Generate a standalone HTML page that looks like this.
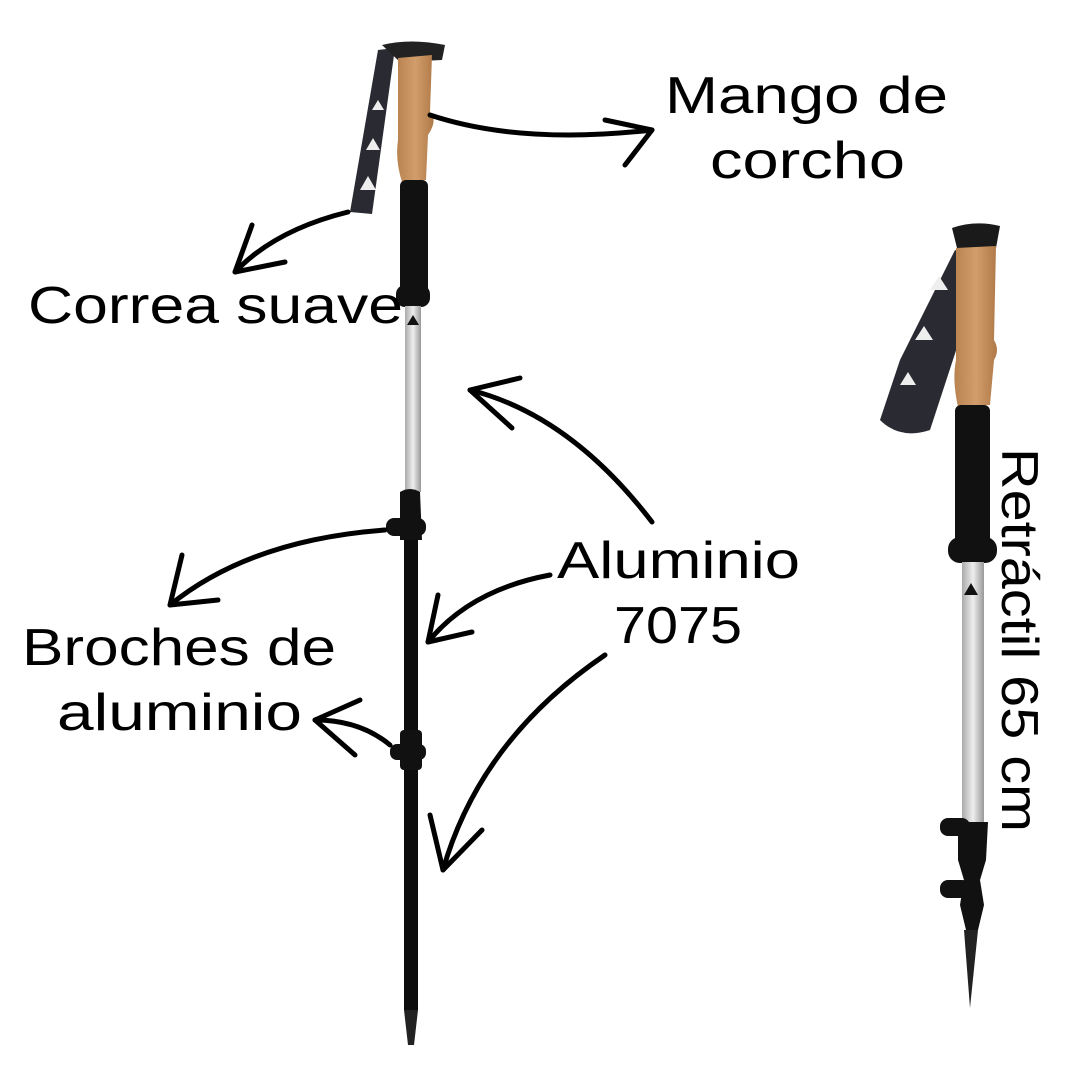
<!DOCTYPE html>
<html><head><meta charset="utf-8"><style>
body{margin:0;background:#fff;}
svg{display:block}
text{font-family:"Liberation Sans",sans-serif;fill:#000}
</style></head><body>
<svg width="1080" height="1080" viewBox="0 0 1080 1080">
<defs>
<linearGradient id="sil" x1="0" x2="1"><stop offset="0" stop-color="#aaa"/><stop offset=".5" stop-color="#eee"/><stop offset="1" stop-color="#999"/></linearGradient>
<linearGradient id="cork" x1="0" x2="1"><stop offset="0" stop-color="#b98350"/><stop offset=".5" stop-color="#d19d6a"/><stop offset="1" stop-color="#b07a48"/></linearGradient>
</defs>
<!-- LEFT POLE -->
<path d="M378 50 L395 48 L372 214 L350 212 Z" fill="#2a2a33"/>
<path d="M360 190 l8 -14 l8 14z M366 150 l7 -12 l7 12z M372 110 l6 -10 l6 10z" fill="#eee"/>
<path d="M382 45 Q410 38 445 45 L442 60 L400 62 Z" fill="#222"/>
<path d="M398 58 L432 55 L430 112 Q438 120 428 135 L426 180 L402 182 Q395 160 398 140 Z" fill="url(#cork)"/>
<rect x="400" y="180" width="28" height="115" rx="6" fill="#111"/>
<rect x="396" y="285" width="34" height="22" rx="9" fill="#111"/>
<rect x="405" y="306" width="16" height="186" fill="url(#sil)"/>
<path d="M407 325 l6 -10 l6 10z" fill="#111"/>
<path d="M400 492 Q410 486 420 492 L422 540 L400 540 Z" fill="#111"/>
<rect x="386" y="518" width="40" height="18" rx="8" fill="#111"/>
<rect x="404" y="540" width="14" height="470" fill="#0d0d0d"/>
<rect x="400" y="730" width="22" height="40" rx="4" fill="#111"/>
<rect x="390" y="744" width="36" height="16" rx="7" fill="#111"/>
<path d="M404 1010 L418 1010 L414 1045 L408 1045 Z" fill="#222"/>
<!-- RIGHT POLE -->
<path d="M955 250 L985 262 L930 430 Q900 440 880 420 L900 360 Z" fill="#2a2a33"/>
<path d="M930 290 l9 -14 l9 14z M915 340 l9 -14 l9 14z M900 385 l8 -13 l8 13z" fill="#eee"/>
<path d="M952 228 Q975 220 1000 226 L996 248 L958 252 Z" fill="#1a1a1a"/>
<path d="M956 248 L996 246 L994 340 Q1000 350 994 360 L990 405 L958 407 Q952 380 956 360 Z" fill="url(#cork)"/>
<rect x="955" y="405" width="35" height="140" rx="6" fill="#111"/>
<rect x="948" y="537" width="49" height="26" rx="12" fill="#111"/>
<rect x="962" y="562" width="22" height="262" fill="url(#sil)"/>
<path d="M964 595 l7 -12 l7 12z" fill="#111"/>
<path d="M958 822 L988 822 L986 860 L980 880 L984 905 L978 930 L966 930 L960 905 L964 880 L958 860 Z" fill="#111"/>
<rect x="940" y="818" width="30" height="18" rx="8" fill="#111"/>
<rect x="940" y="880" width="30" height="18" rx="8" fill="#111"/>
<path d="M964 930 L978 930 L970 1008 Z" fill="#222"/>
<!-- ARROWS -->
<g fill="none" stroke="#000" stroke-width="5" stroke-linecap="round" stroke-linejoin="round">
<path d="M430 115 Q520 145 652 130"/><path d="M605 120 L652 130 L625 165"/>
<path d="M348 212 Q275 230 235 272"/><path d="M252 225 L235 272 L285 262"/>
<path d="M652 522 Q570 415 470 390"/><path d="M520 378 L470 390 L512 428"/>
<path d="M385 530 Q250 540 170 605"/><path d="M182 555 L170 605 L218 600"/>
<path d="M550 575 Q470 590 428 642"/><path d="M438 595 L428 642 L472 632"/>
<path d="M605 655 Q480 740 443 870"/><path d="M430 815 L443 870 L482 830"/>
<path d="M390 745 Q360 720 315 720"/><path d="M360 700 L315 720 L355 755"/>
</g>
<!-- LABELS -->
<g font-size="52">
<text x="665" y="113" textLength="283" lengthAdjust="spacingAndGlyphs">Mango de</text>
<text x="710" y="178" textLength="195" lengthAdjust="spacingAndGlyphs">corcho</text>
<text x="28" y="323" textLength="375" lengthAdjust="spacingAndGlyphs">Correa suave</text>
<text x="557" y="578" textLength="243" lengthAdjust="spacingAndGlyphs">Aluminio</text>
<text x="614" y="643" textLength="128" lengthAdjust="spacingAndGlyphs">7075</text>
<text x="22" y="665" textLength="314" lengthAdjust="spacingAndGlyphs">Broches de</text>
<text x="57" y="730" textLength="245" lengthAdjust="spacingAndGlyphs">aluminio</text>
<text transform="translate(1002,448) rotate(90)" textLength="384" lengthAdjust="spacingAndGlyphs">Retráctil 65 cm</text>
</g>
</svg>
</body></html>
